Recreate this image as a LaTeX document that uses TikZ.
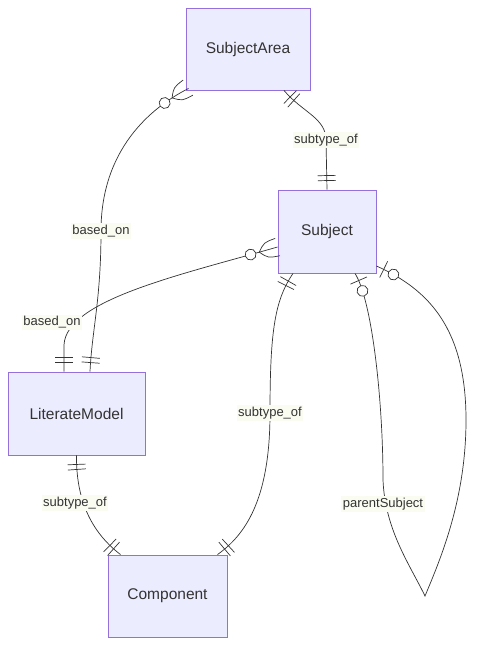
\documentclass[tikz,border=0pt]{standalone}
\usepackage{fontspec}
\setmainfont{Liberation Sans}
\usetikzlibrary{decorations.markings}
\definecolor{entborder}{HTML}{9370DB}
\definecolor{entfill}{HTML}{ECECFF}
\definecolor{inkgrey}{HTML}{333333}
\definecolor{lblfill}{HTML}{FAFCF2}
\tikzset{
  entity/.style={draw=entborder,fill=entfill,text=inkgrey,line width=0.9pt,
    font=\fontsize{15.5}{18}\selectfont,inner sep=0pt},
  relation/.style={draw=inkgrey,line width=0.7pt},
  rellabel/.style={fill=lblfill,text=inkgrey,font=\fontsize{13}{15}\selectfont,inner sep=1.5pt},
  mk/.style={draw=inkgrey,line width=0.7pt},
  bars start/.style={postaction={decorate,decoration={markings,
      mark=at position 9pt with {\draw[mk] (0,-9pt) -- (0,9pt);},
      mark=at position 14pt with {\draw[mk] (0,-9pt) -- (0,9pt);}}}},
  bars end/.style={postaction={decorate,decoration={markings,
      mark=at position -9pt with {\draw[mk] (0,-9pt) -- (0,9pt);},
      mark=at position -14pt with {\draw[mk] (0,-9pt) -- (0,9pt);}}}},
  crow start/.style={postaction={decorate,decoration={markings,
      mark=at position 19pt with {\draw[mk] (0,0) .. controls (-7pt,8pt) .. (-19pt,9pt)
        (0,0) .. controls (-7pt,-8pt) .. (-19pt,-9pt);},
      mark=at position 28pt with {\draw[mk,fill=white] (0,0) circle (5.5pt);}}}},
  barcircle start/.style={postaction={decorate,decoration={markings,
      mark=at position 8pt with {\draw[mk] (0,-9pt) -- (0,9pt);},
      mark=at position 19pt with {\draw[mk,fill=white] (0,0) circle (5.5pt);}}}},
  barcircle end/.style={postaction={decorate,decoration={markings,
      mark=at position -8pt with {\draw[mk] (0,-9pt) -- (0,9pt);},
      mark=at position -19pt with {\draw[mk,fill=white] (0,0) circle (5.5pt);}}}}
}
\begin{document}
\begin{tikzpicture}[x=1pt,y=-1pt]
  \useasboundingbox (0,0) rectangle (481,655);
  % entities
  \node[entity,minimum width=124pt,minimum height=82pt] (sa) at (248,49) {SubjectArea};
  \node[entity,minimum width=98pt,minimum height=83pt] (sub) at (327,231.5) {Subject};
  \node[entity,minimum width=137pt,minimum height=83pt] (lm) at (76.5,413.5) {LiterateModel};
  \node[entity,minimum width=119pt,minimum height=82pt] (comp) at (167.5,596) {Component};
  % end points on the boxes
  \coordinate (saL) at ([shift={(3,-2)}]sa.south west);
  \coordinate (saR) at ([xshift=36pt]sa.south);
  \coordinate (subL) at ([yshift=-15.5pt]sub.west);
  \coordinate (subB1) at ([xshift=-34pt]sub.south);
  \coordinate (subB2) at ([xshift=28pt]sub.south);
  \coordinate (subR) at ([yshift=-34.5pt]sub.east);
  \coordinate (lmT1) at ([xshift=13.5pt]lm.north);
  \coordinate (lmT2) at ([xshift=-12.5pt]lm.north);
  \coordinate (compT1) at ([xshift=-47pt]comp.north);
  \coordinate (compT2) at ([xshift=50pt]comp.north);
  \coordinate (tip) at (425,596);
  \coordinate (m1) at (101,231);
  \coordinate (m2) at (326,140);
  \coordinate (m4) at (270,413);
  % relationships
  \draw[relation,crow start,bars end] (saL) .. controls (150,108) and (101,150) .. (m1)
    .. controls (101,300) and (92,330) .. (lmT1);
  \draw[relation,bars start,bars end] (saR) .. controls (302,112) and (326,118) .. (m2) -- (sub.north);
  \draw[relation,crow start,bars end] (subL) .. controls (180,275) and (66,300) .. (64,345) -- (lmT2);
  \draw[relation,bars start,bars end] (subB1) .. controls (275,300) and (270,330) .. (m4)
    .. controls (270,500) and (245,535) .. (compT2);
  \draw[relation,bars start,bars end] (lm.south) .. controls (76,505) and (95,535) .. (compT1);
  \draw[relation,barcircle start,barcircle end] (subB2) .. controls (372,300) and (383,400) .. (383,480)
    .. controls (385,530) and (410,565) .. (tip) .. controls (440,560) and (466,500) .. (466,420)
    .. controls (466,330) and (430,290) .. (subR);
  % relationship labels
  \node[rellabel] (lb1) at (m1) {based\_on};
  \node[rellabel] (lb2) at (m2) {subtype\_of};
  \node[rellabel] (lb3) at (52,322) {based\_on};
  \node[rellabel] (lb4) at (m4) {subtype\_of};
  \node[rellabel] (lb5) at (75,503) {subtype\_of};
  \node[rellabel] (lb6) at (383,504) {parentSubject};
\end{tikzpicture}
\end{document}
